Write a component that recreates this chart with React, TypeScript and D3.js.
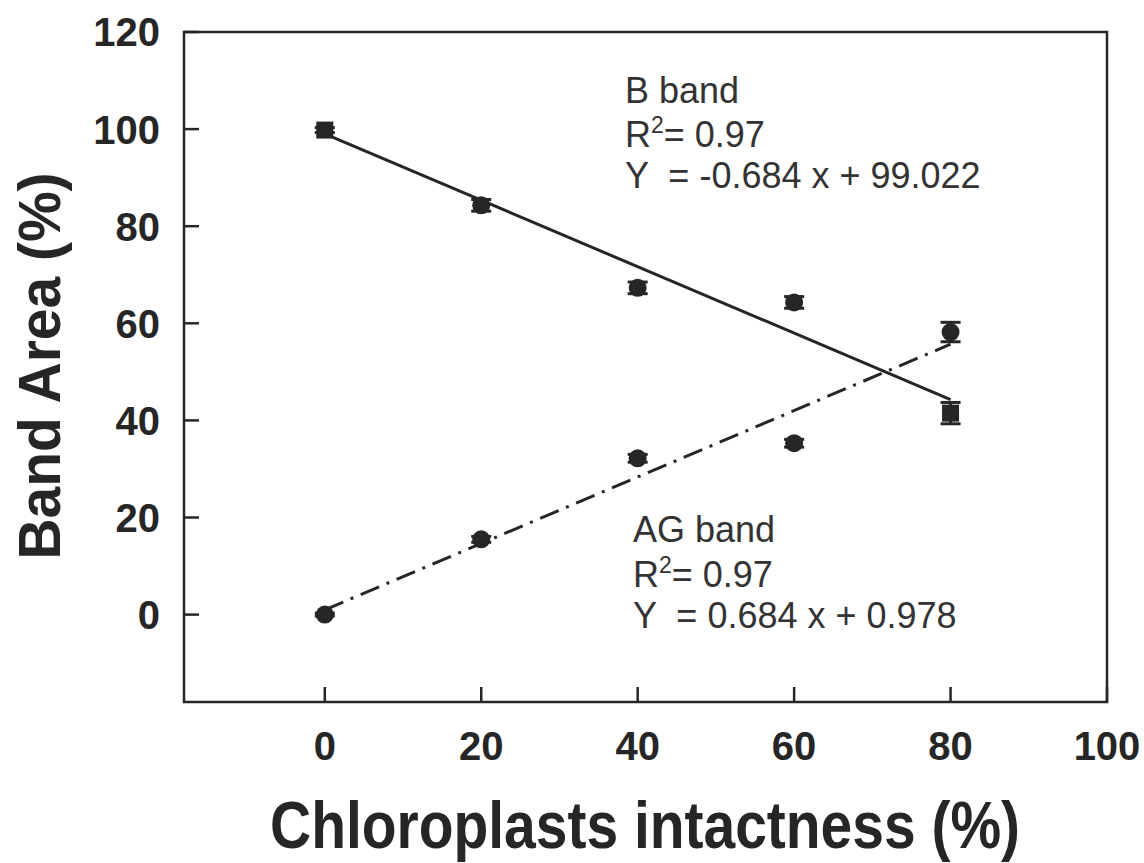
import React from "react";
import * as d3 from "d3";

const xValues = [0, 20, 40, 60, 80];
const bBand = [99.8, 84.3, 67.3, 64.3, 41.5];
const bErr = [0.5, 1.2, 1.2, 1.2, 2.2];
const bShapes = ["square", "circle", "circle", "circle", "square"];
const agBand = [0, 15.5, 32.2, 35.3, 58.2];
const agErr = [0.3, 0.6, 0.8, 0.8, 2.0];
const bFit = { slope: -0.684, intercept: 99.022 };
const agFit = { slope: 0.684, intercept: 0.978 };
const xTicks = [0, 20, 40, 60, 80, 100];
const yTicks = [0, 20, 40, 60, 80, 100, 120];
const bLabel = ["B band", "0.97", "Y  = -0.684 x + 99.022"];
const agLabel = ["AG band", "0.97", "Y  = 0.684 x + 0.978"];

const W = 1144;
const H = 863;
const L = 184, R = 1107, T = 32, B = 702;
const ink = "#262626";

export default function App() {
  const x = d3.scaleLinear().domain([-18, 100]).range([L, R]);
  const y = d3.scaleLinear().domain([-18, 120]).range([B, T]);
  const fitLine = (f: { slope: number; intercept: number }) =>
    d3
      .line<number>()
      .x((d) => x(d))
      .y((d) => y(f.slope * d + f.intercept))([0, 80]) || "";

  const annot = (lines: string[], tx: number, ty: number[]) => (
    <g fontFamily="'Liberation Sans', Arial, sans-serif" fontSize={36} fill="#333">
      <text x={tx} y={ty[0]}>{lines[0]}</text>
      <text x={tx} y={ty[1]}>
        R<tspan fontSize={23} dy={-14}>2</tspan>
        <tspan dy={14}>= {lines[1]}</tspan>
      </text>
      <text x={tx} y={ty[2]} style={{ whiteSpace: "pre" }}>{lines[2]}</text>
    </g>
  );

  const errBar = (cx: number, v: number, e: number, key: string) => (
    <g key={key} stroke={ink} strokeWidth={3}>
      <line x1={cx} x2={cx} y1={y(v - e)} y2={y(v + e)} />
      <line x1={cx - 10} x2={cx + 10} y1={y(v - e)} y2={y(v - e)} />
      <line x1={cx - 10} x2={cx + 10} y1={y(v + e)} y2={y(v + e)} />
    </g>
  );

  return (
    <svg
      width={W}
      height={H}
      style={{ position: "absolute", left: 0, top: 0, background: "#fff" }}
    >
      <rect x={L} y={T} width={R - L} height={B - T} fill="none" stroke={ink} strokeWidth={2.5} />
      {yTicks.map((t) => (
        <g key={"y" + t}>
          <line x1={L} x2={L + 15} y1={y(t)} y2={y(t)} stroke={ink} strokeWidth={2.5} />
          <text
            x={160}
            y={y(t)}
            dy="0.36em"
            textAnchor="end"
            fontFamily="'Liberation Sans', Arial, sans-serif"
            fontWeight="bold"
            fontSize={40}
            fill={ink}
          >
            {t}
          </text>
        </g>
      ))}
      {xTicks.map((t) => (
        <g key={"x" + t}>
          <line x1={x(t)} x2={x(t)} y1={B} y2={B - 15} stroke={ink} strokeWidth={2.5} />
          <text
            x={x(t)}
            y={760}
            textAnchor="middle"
            fontFamily="'Liberation Sans', Arial, sans-serif"
            fontWeight="bold"
            fontSize={40}
            fill={ink}
          >
            {t}
          </text>
        </g>
      ))}
      <path d={fitLine(bFit)} fill="none" stroke={ink} strokeWidth={3} />
      <path d={fitLine(agFit)} fill="none" stroke={ink} strokeWidth={3} strokeDasharray="20 8 3 8" />
      {xValues.map((xv, i) => errBar(x(xv), bBand[i], bErr[i], "be" + i))}
      {xValues.map((xv, i) => errBar(x(xv), agBand[i], agErr[i], "ae" + i))}
      {xValues.map((xv, i) =>
        bShapes[i] === "square" ? (
          <rect key={"bm" + i} x={x(xv) - 8.5} y={y(bBand[i]) - 8.5} width={17} height={17} fill={ink} />
        ) : (
          <circle key={"bm" + i} cx={x(xv)} cy={y(bBand[i])} r={9} fill={ink} />
        )
      )}
      {xValues.map((xv, i) => (
        <circle key={"am" + i} cx={x(xv)} cy={y(agBand[i])} r={9} fill={ink} />
      ))}
      {annot(bLabel, 625, [103, 147, 188])}
      {annot(agLabel, 633, [542, 587, 628])}
      <text
        x={645}
        y={848}
        textAnchor="middle"
        fontFamily="'Liberation Sans', Arial, sans-serif"
        fontWeight="bold"
        fontSize={66}
        textLength={750}
        lengthAdjust="spacingAndGlyphs"
        fill={ink}
      >
        Chloroplasts intactness (%)
      </text>
      <text
        transform={`translate(60, 366) rotate(-90)`}
        textAnchor="middle"
        fontFamily="'Liberation Sans', Arial, sans-serif"
        fontWeight="bold"
        fontSize={60}
        textLength={387}
        lengthAdjust="spacingAndGlyphs"
        fill={ink}
      >
        Band Area (%)
      </text>
    </svg>
  );
}
